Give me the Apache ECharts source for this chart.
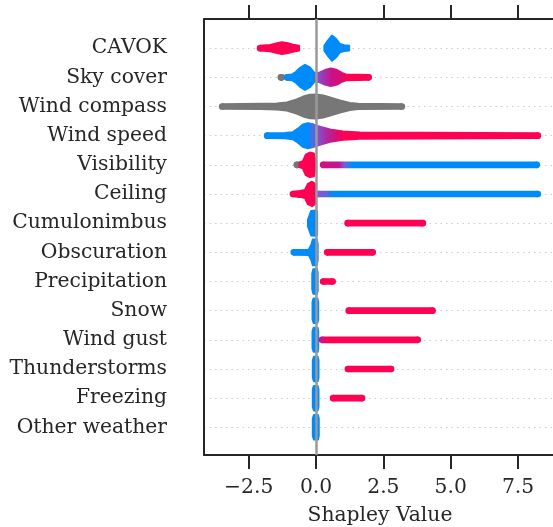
<!DOCTYPE html>
<html>
<head>
<meta charset="utf-8">
<script src="https://cdn.jsdelivr.net/npm/echarts@6/dist/echarts.min.js"></script>
<style>
  html, body { margin: 0; padding: 0; background: #fff; }
  #chart { width: 553px; height: 527px; }
</style>
</head>
<body>
<div id="chart"></div>
<script>
// features, top to bottom
var features = ['CAVOK', 'Sky cover', 'Wind compass', 'Wind speed', 'Visibility', 'Ceiling',
  'Cumulonimbus', 'Obscuration', 'Precipitation', 'Snow', 'Wind gust', 'Thunderstorms',
  'Freezing', 'Other weather'];
var xTicks = [-2.5, 0, 2.5, 5, 7.5];

// each blob: fv = feature value (0 low .. 1 high, null = missing, or [shap, fv] stops)
// shape = [shap value, half density]
var cavok = [
  { fv: 1, shape: [[-2.2, .08], [-1.95, .09], [-1.7, .11], [-1.48, .16], [-1.27, .2], [-1.04, .17], [-0.86, .12], [-0.63, .08]] },
  { fv: 0, shape: [[0.31, .09], [0.44, .26], [0.59, .43], [0.74, .32], [0.89, .14], [1.04, .1], [1.23, .08]] }
];
var skyCover = [
  { fv: null, shape: [[-1.43, .08], [-1.15, .08]] },
  { fv: 0, shape: [[-1.2, .08], [-0.89, .1], [-0.75, .18], [-0.6, .32], [-0.41, .43], [-0.23, .34], [-0.08, .17], [0.02, .12]] },
  { fv: [[-0.02, 0.35], [0.3, 0.55], [0.6, 0.75], [1.0, 0.85], [1.15, 1]],
    shape: [[-0.02, .13], [0.14, .17], [0.33, .25], [0.55, .3], [0.78, .25], [0.96, .15], [1.11, .1], [1.6, .09], [2.08, .08]] }
];
var windCompass = [
  { fv: null, shape: [[-3.61, .08], [-2.08, .09], [-1.46, .1], [-1.09, .14], [-0.72, .24], [-0.48, .34], [-0.23, .4], [0, .41], [0.27, .38], [0.52, .31], [0.89, .21], [1.26, .12], [1.56, .09], [3.31, .08]] }
];
var windSpeed = [
  { fv: [[-1.95, 0], [-0.3, 0], [0.0, 0.35], [0.4, 0.6], [0.8, 0.85], [1.05, 1]],
    shape: [[-1.94, .08], [-1.16, .09], [-0.86, .12], [-0.67, .24], [-0.49, .38], [-0.3, .43], [-0.08, .38], [0.14, .31], [0.52, .21], [1.0, .14], [1.63, .11], [3.86, .1], [8.36, .08]] }
];
var visibility = [
  { fv: null, shape: [[-0.76, .08], [-0.66, .08]] },
  { fv: 1, shape: [[-0.62, .08], [-0.49, .12], [-0.38, .35], [-0.23, .42], [-0.08, .39], [-0.03, .17]] },
  { fv: [[0.14, 0.8], [0.85, 0.7], [1.05, 0.35], [1.35, 0]], shape: [[0.14, .08], [8.32, .08]] }
];
var ceiling = [
  { fv: 1, shape: [[-0.98, .08], [-0.6, .1], [-0.41, .14], [-0.3, .35], [-0.15, .42], [-0.04, .35], [0.0, .12]] },
  { fv: [[-0.03, 0.35], [0.35, 0.3], [0.65, 0]], shape: [[-0.03, .08], [8.36, .08]] }
];
var cumulonimbus = [
  { fv: 0, shape: [[-0.3, .11], [-0.24, .27], [-0.18, .42], [0, .43], [0.04, .39]] },
  { fv: 1, shape: [[1.05, .08], [4.09, .08]] }
];
var obscuration = [
  { fv: 0, shape: [[-0.95, .08], [-0.27, .09], [-0.17, .27], [-0.12, .44], [0.03, .44], [0.06, .27]] },
  { fv: 1, shape: [[0.29, .08], [2.23, .08]] }
];
var precipitation = [
  { fv: 0, shape: [[-0.14, .27], [-0.1, .42], [0.03, .43], [0.06, .32]] },
  { fv: 1, shape: [[0.14, .08], [0.74, .08]] }
];
var snow = [
  { fv: 0, shape: [[-0.13, .3], [-0.09, .42], [0.05, .42], [0.08, .3]] },
  { fv: 1, shape: [[1.09, .08], [4.45, .08]] }
];
var windGust = [
  { fv: 0, shape: [[-0.13, .3], [-0.09, .41], [0.06, .41], [0.08, .3]] },
  { fv: [[0.1, 0.75], [0.3, 1]], shape: [[0.1, .08], [3.9, .08]] }
];
var thunderstorms = [
  { fv: 0, shape: [[-0.12, .3], [-0.08, .42], [0.06, .42], [0.09, .3]] },
  { fv: 1, shape: [[1.06, .08], [2.91, .08]] }
];
var freezing = [
  { fv: 0, shape: [[-0.12, .3], [-0.08, .42], [0.06, .42], [0.09, .3]] },
  { fv: 1, shape: [[0.51, .08], [1.83, .08]] }
];
var otherWeather = [
  { fv: 0, shape: [[-0.12, .3], [-0.08, .42], [0.07, .42], [0.1, .3]] }
];

var rows = [cavok, skyCover, windCompass, windSpeed, visibility, ceiling, cumulonimbus,
  obscuration, precipitation, snow, windGust, thunderstorms, freezing, otherWeather];

var blobs = [];
rows.forEach(function (list, r) {
  list.forEach(function (b) { blobs.push({ row: r, fv: b.fv, shape: b.shape }); });
});

// shap red_blue colormap
var cmapStops = [[0, [0, 139, 251]], [0.35, [124, 90, 214]], [0.7, [192, 20, 143]], [1, [255, 0, 82]]];
function cmap(v) {
  if (v === null) return '#777777';
  for (var i = 1; i < cmapStops.length; i++) {
    if (v <= cmapStops[i][0]) {
      var a = cmapStops[i - 1], b = cmapStops[i];
      var t = (v - a[0]) / (b[0] - a[0]);
      var c = a[1].map(function (ch, k) { return Math.round(ch + (b[1][k] - ch) * t); });
      return 'rgb(' + c.join(',') + ')';
    }
  }
  return 'rgb(255,0,82)';
}

function makeFill(b, api) {
  if (!Array.isArray(b.fv)) return cmap(b.fv);
  var x0 = api.coord([b.fv[0][0], b.row])[0];
  var x1 = api.coord([b.fv[b.fv.length - 1][0], b.row])[0];
  return {
    type: 'linear', global: true, x: x0, y: 0, x2: x1, y2: 0,
    colorStops: b.fv.map(function (s) {
      return { offset: (api.coord([s[0], b.row])[0] - x0) / (x1 - x0), color: cmap(s[1]) };
    })
  };
}

function endColor(b, last) {
  if (!Array.isArray(b.fv)) return cmap(b.fv);
  return cmap(b.fv[last ? b.fv.length - 1 : 0][1]);
}

function renderItem(params, api) {
  var b = blobs[params.dataIndex];
  var n = b.shape.length;
  var yc = api.coord([0, b.row])[1];
  var half = b.shape.map(function (p) { return api.coord([p[0], b.row + p[1]])[1] - yc; });
  var xs = b.shape.map(function (p) { return api.coord([p[0], b.row])[0]; });
  // round caps only on thin ends that have room for them
  var capL = b.shape[0][1] <= 0.15 && (n === 2 || xs[1] - xs[0] > 2 * half[0] + 2);
  var capR = b.shape[n - 1][1] <= 0.15 && (n === 2 || xs[n - 1] - xs[n - 2] > 2 * half[n - 1] + 2);
  if (n === 2 && xs[1] - xs[0] < 2 * half[0] + 2) {
    var mid = (xs[0] + xs[1]) / 2;
    xs[0] = mid; xs[1] = mid;
  } else {
    if (capL) xs[0] += half[0] + 1;
    if (capR) xs[n - 1] -= half[n - 1] + 1;
  }
  var pts = [];
  for (var i = 0; i < n; i++) pts.push([xs[i], yc - half[i]]);
  for (var j = n - 1; j >= 0; j--) pts.push([xs[j], yc + half[j]]);
  var children = [{
    type: 'polygon',
    shape: { points: pts },
    style: { fill: makeFill(b, api), stroke: makeFill(b, api), lineWidth: 2, lineJoin: 'round' }
  }];
  if (capL) children.push({ type: 'circle', shape: { cx: xs[0], cy: yc, r: half[0] + 1 }, style: { fill: endColor(b, false) } });
  if (capR) children.push({ type: 'circle', shape: { cx: xs[n - 1], cy: yc, r: half[n - 1] + 1 }, style: { fill: endColor(b, true) } });
  return { type: 'group', children: children };
}

var font = 'DejaVu Serif';
var ink = '#262626';
var spine = { show: true, onZero: false, lineStyle: { color: '#262626', width: 2 } };

var dom = document.getElementById('chart');
var myChart = echarts.init(dom, null, { renderer: 'canvas' });
var option = {
  animation: false,
  backgroundColor: '#ffffff',
  grid: { left: 204, right: -3, top: 19, bottom: 72, containLabel: false, outerBoundsMode: 'none' },
  xAxis: [
    {
      type: 'value', position: 'bottom', min: -4.16, max: 8.91,
      axisLine: spine,
      axisTick: { show: true, inside: false, length: 14, lineStyle: { color: '#262626', width: 2 }, customValues: xTicks },
      axisLabel: {
        customValues: xTicks, margin: 23, fontFamily: font, fontSize: 20.3, color: ink,
        formatter: function (v) { return (v < 0 ? '\u2212' : '') + Math.abs(v).toFixed(1); }
      },
      splitLine: { show: false },
      name: 'Shapley Value', nameLocation: 'middle', nameGap: 51,
      nameTextStyle: { fontFamily: font, fontSize: 20.3, color: ink }
    },
    {
      type: 'value', position: 'top', min: -4.16, max: 8.91,
      axisLine: spine,
      axisTick: { show: true, inside: false, length: 14, lineStyle: { color: '#262626', width: 2 }, customValues: xTicks },
      axisLabel: { show: false },
      splitLine: { show: false }
    }
  ],
  yAxis: {
    type: 'value', inverse: true, min: -1, max: 13.95, interval: 1,
    axisLine: spine,
    axisTick: { show: false },
    axisLabel: {
      margin: 37, fontFamily: font, fontSize: 20.3, color: ink,
      showMinLabel: false, showMaxLabel: false,
      formatter: function (v) {
        var i = Math.round(v);
        return (Math.abs(v - i) < 1e-6 && i >= 0 && i < features.length) ? features[i] : '';
      }
    },
    splitLine: { show: true, lineStyle: { color: '#cccccc', width: 1, type: [1.5, 4] } }
  },
  series: [
    {
      type: 'line', data: [], z: 1, silent: true,
      markLine: {
        silent: true, symbol: 'none', label: { show: false },
        lineStyle: { color: '#999999', width: 2.5, type: 'solid' },
        data: [{ xAxis: 0 }]
      }
    },
    {
      type: 'custom', z: 3, clip: true, silent: true,
      renderItem: renderItem,
      encode: { x: 0, y: 1 },
      data: blobs.map(function (b) { return [b.shape[0][0], b.row]; })
    }
  ]
};
myChart.setOption(option);
</script>
</body>
</html>
